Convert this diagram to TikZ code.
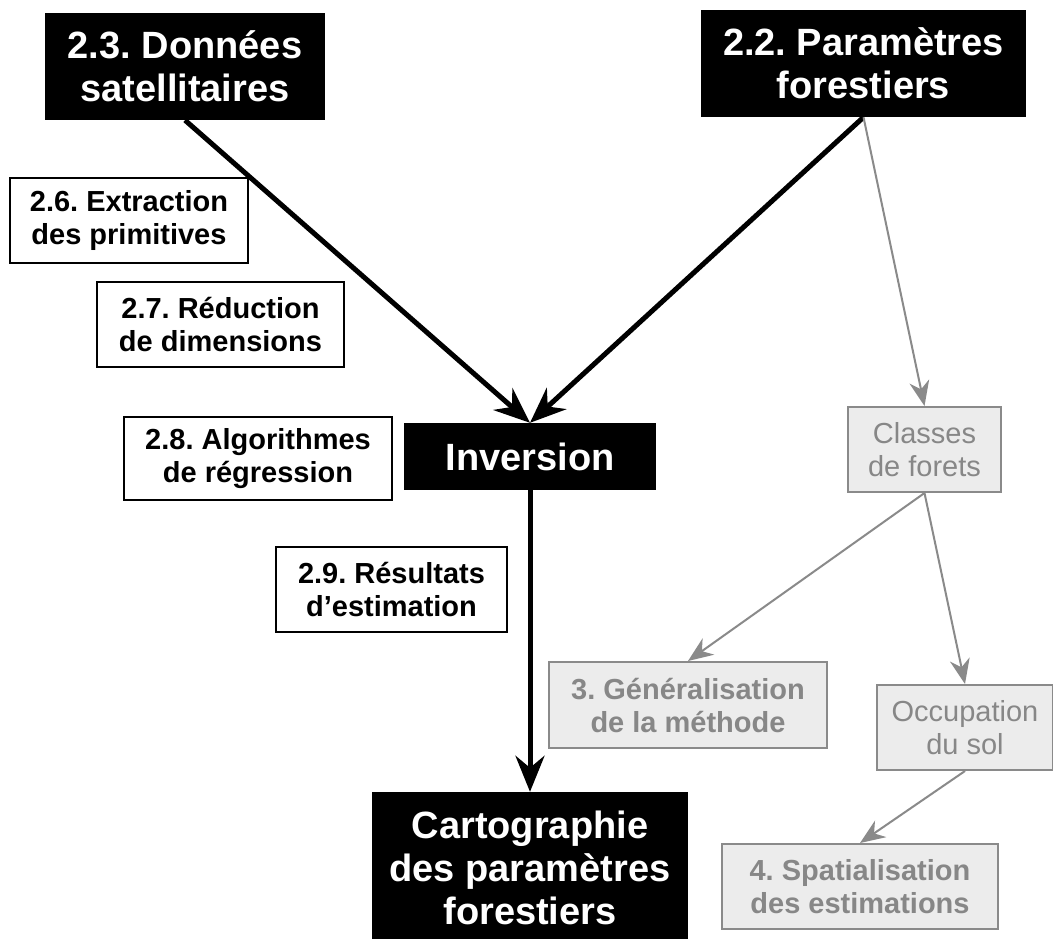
\documentclass[tikz,border=0pt]{standalone}
\usepackage{fontspec}
\setmainfont{Liberation Sans}
\usetikzlibrary{arrows.meta}
\definecolor{gtext}{HTML}{878787}
\definecolor{gfill}{HTML}{ECECEC}
\definecolor{gline}{HTML}{8A8A8A}
\tikzset{
  bigbox/.style={fill=black, text=white, inner sep=0pt, align=center,
    font=\fontsize{38}{43}\selectfont\bfseries},
  smallbox/.style={draw=black, line width=1.4pt, fill=white, inner sep=0pt, align=center,
    font=\fontsize{29}{33}\selectfont\bfseries},
  greybox/.style={draw=gline, line width=2pt, fill=gfill, text=gtext, inner sep=0pt, align=center,
    font=\fontsize{29}{33}\selectfont},
  greyboldbox/.style={greybox, font=\fontsize{29}{33}\selectfont\bfseries},
  blk/.style={line width=5pt, -{Stealth[length=36pt, width=29pt, inset=12pt]}},
  gry/.style={draw=gline, line width=2pt, -{Stealth[length=25pt, width=20pt, inset=8pt]}, color=gline},
}
\frenchspacing
\begin{document}
\frenchspacing
\begin{tikzpicture}[x=1pt,y=-1pt]
\useasboundingbox (0,0) rectangle (1053,938);
\fill[white] (0,0) rectangle (1053,938);

\node[bigbox, minimum width=280pt, minimum height=107pt] (sat) at (185,66.5) {2.3. Données\\satellitaires};
\node[bigbox, minimum width=325pt, minimum height=107pt] (par) at (863.5,63.5) {2.2. Paramètres\\forestiers};
\node[bigbox, minimum width=252pt, minimum height=67pt] (inv) at (530,456.5) {Inversion};
\node[bigbox, minimum width=316pt, minimum height=152pt] (car) at (530,868) {Cartographie\\des paramètres\\forestiers};

\node[smallbox, minimum width=238pt, minimum height=85pt] (ext) at (129,220.5) {2.6. Extraction\\des primitives};
\node[smallbox, minimum width=247pt, minimum height=85pt] (red) at (220.5,324.5) {2.7. Réduction\\de dimensions};
\node[smallbox, minimum width=268pt, minimum height=83pt] (alg) at (258,458.5) {2.8. Algorithmes\\de régression};
\node[smallbox, minimum width=231pt, minimum height=85pt] (res) at (391.5,589.5) {2.9. Résultats\\d’estimation};

\node[greybox, minimum width=153pt, minimum height=85pt] (cls) at (924.5,449.5) {Classes\\de forets};
\node[greyboldbox, minimum width=278pt, minimum height=86pt] (gen) at (688,705) {3. Généralisation\\de la méthode};
\node[greybox, minimum width=176pt, minimum height=85pt] (occ) at (965,727.5) {Occupation\\du sol};
\node[greyboldbox, minimum width=276pt, minimum height=85pt] (spa) at (860,886.5) {4. Spatialisation\\des estimations};

\draw[blk] (sat.south) -- (inv.north);
\draw[blk] (par.south) -- (inv.north);
\draw[blk] (inv.south) -- (car.north);

\draw[gry] (par.south) -- (cls.north);
\draw[gry] (cls.south) -- (gen.north);
\draw[gry] (cls.south) -- (occ.north);
\draw[gry] (occ.south) -- (spa.north);
\end{tikzpicture}
\end{document}
